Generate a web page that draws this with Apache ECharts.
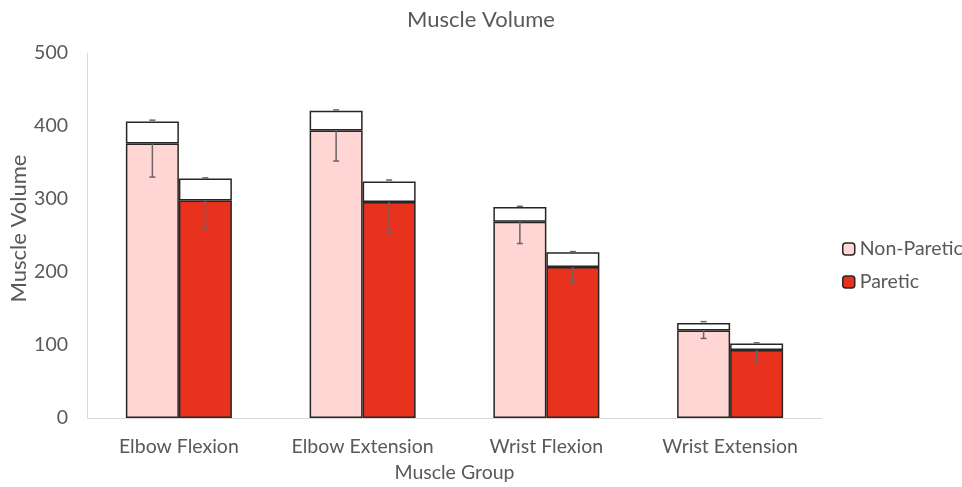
<!DOCTYPE html>
<html>
<head>
<meta charset="utf-8">
<script src="https://cdn.jsdelivr.net/npm/echarts@6/dist/echarts.min.js"></script>
<style>html,body{margin:0;padding:0;background:#fff}#c{width:962px;height:487px}</style>
</head>
<body>
<div id="c"></div>
<script>
const categories = ['Elbow Flexion', 'Elbow Extension', 'Wrist Flexion', 'Wrist Extension'];
const yTicks = [0, 100, 200, 300, 400, 500];
const nonPareticMean = [376, 394, 269, 120];
const nonPareticTotal = [406, 421, 289, 130];
const nonPareticErrLow = [330, 352, 239, 109];
const nonPareticErrHigh = [408, 422, 290, 132];
const pareticMean = [298, 296, 207, 93];
const pareticTotal = [328, 324, 227, 102];
const pareticErrLow = [260, 254, 185, 77];
const pareticErrHigh = [329, 326, 228, 103];

const FONT = 'Lato';
const FS = 19.5;
const BAR_W = 53;
const border = { borderColor: '#262626', borderWidth: 1.5 };

function diff(a, b) { return a.map((v, i) => v - b[i]); }

function errSeries(name, mean, low, high, offset) {
  return {
    type: 'custom',
    name: name + ' err',
    z: 10,
    silent: true,
    data: categories.map((c, i) => [i, mean[i], low[i], high[i]]),
    renderItem: function (params, api) {
      const i = api.value(0);
      const pm = api.coord([i, api.value(1)]);
      const pl = api.coord([i, api.value(2)]);
      const ph = api.coord([i, api.value(3)]);
      const x = pm[0] + offset;
      const cap = 3;
      const style = { stroke: '#666666', lineWidth: 1.5 };
      return {
        type: 'group',
        children: [
          { type: 'line', shape: { x1: x, y1: pm[1], x2: x, y2: pl[1] }, style: style },
          { type: 'line', shape: { x1: x - cap, y1: pl[1], x2: x + cap, y2: pl[1] }, style: style },
          { type: 'line', shape: { x1: x - cap, y1: ph[1], x2: x + cap, y2: ph[1] }, style: style }
        ]
      };
    }
  };
}

const chart = echarts.init(document.getElementById('c'), null, { renderer: 'canvas' });
chart.setOption({
  animation: false,
  backgroundColor: '#ffffff',
  textStyle: { fontFamily: FONT },
  title: {
    text: 'Muscle Volume',
    left: 'center', top: 4,
    textStyle: { fontFamily: FONT, fontSize: 22, fontWeight: 'normal', color: '#595959' }
  },
  legend: {
    orient: 'vertical',
    left: 837, top: 234,
    itemWidth: 12, itemHeight: 12, itemGap: 13,
    data: [
      { name: 'Non-Paretic', itemStyle: { color: '#FFD6D4', borderColor: '#262626', borderWidth: 1.5 } },
      { name: 'Paretic', itemStyle: { color: '#E8321E', borderColor: '#262626', borderWidth: 1.5 } }
    ],
    textStyle: { fontFamily: FONT, fontSize: FS, color: '#595959', lineHeight: 20 }
  },
  grid: { left: 87, right: 140, top: 53, bottom: 69, containLabel: false, outerBoundsMode: 'none' },
  xAxis: {
    type: 'category',
    data: categories,
    name: 'Muscle Group',
    nameLocation: 'middle',
    nameGap: 45,
    nameMoveOverlap: false,
    nameTextStyle: { fontFamily: FONT, fontSize: FS, color: '#595959' },
    axisLine: { lineStyle: { color: '#d9d9d9', width: 1 } },
    axisTick: { show: false },
    axisLabel: { interval: 0, hideOverlap: false, fontFamily: FONT, fontSize: FS, color: '#595959', margin: 19 }
  },
  yAxis: {
    type: 'value',
    min: yTicks[0], max: yTicks[yTicks.length - 1], interval: 100,
    name: 'Muscle Volume',
    nameLocation: 'middle',
    nameGap: 57,
    nameMoveOverlap: false,
    nameRotate: 90,
    nameTextStyle: { fontFamily: FONT, fontSize: 22, color: '#595959', padding: [0, 0, 0, 14] },
    axisLine: { show: true, lineStyle: { color: '#d9d9d9', width: 1 } },
    axisTick: { show: false },
    splitLine: { show: false },
    axisLabel: { fontFamily: FONT, fontSize: FS, color: '#595959', margin: 19 }
  },
  series: [
    { name: 'Non-Paretic', type: 'bar', stack: 'np', barWidth: BAR_W, barGap: '0%',
      data: nonPareticMean, itemStyle: Object.assign({ color: '#FFD6D4' }, border) },
    { name: 'Non-Paretic extra', type: 'bar', stack: 'np', barWidth: BAR_W, barGap: '0%',
      data: diff(nonPareticTotal, nonPareticMean), itemStyle: Object.assign({ color: '#ffffff' }, border) },
    { name: 'Paretic', type: 'bar', stack: 'p', barWidth: BAR_W, barGap: '0%',
      data: pareticMean, itemStyle: Object.assign({ color: '#E8321E' }, border) },
    { name: 'Paretic extra', type: 'bar', stack: 'p', barWidth: BAR_W, barGap: '0%',
      data: diff(pareticTotal, pareticMean), itemStyle: Object.assign({ color: '#ffffff' }, border) },
    errSeries('Non-Paretic', nonPareticMean, nonPareticErrLow, nonPareticErrHigh, -BAR_W / 2),
    errSeries('Paretic', pareticMean, pareticErrLow, pareticErrHigh, BAR_W / 2)
  ]
});
</script>
</body>
</html>
